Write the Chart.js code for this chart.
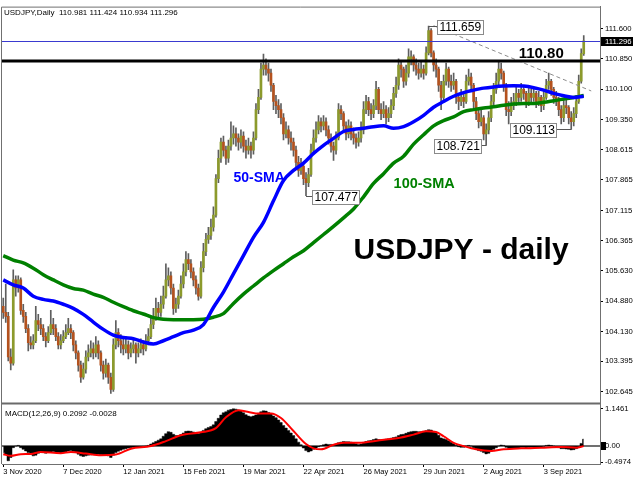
<!DOCTYPE html>
<html>
<head>
<meta charset="utf-8">
<script src="https://cdn.jsdelivr.net/npm/chart.js@4.4.1/dist/chart.umd.min.js"></script>
<style>
  html, body { margin: 0; padding: 0; background: #fff; }
  #wrap { width: 640px; height: 480px; }
</style>
</head>
<body>
<div id="wrap"><canvas id="chart" width="640" height="480"></canvas></div>
<script>
// daily candles, bar 0 = 3 Nov 2020
const opens = [
  104.75,104.60,104.50,103.50,103.35,105.40,105.20,105.40,104.65,104.50,
  104.20,103.85,103.80,103.90,104.40,104.30,104.20,104.00,103.90,104.10,
  104.30,104.20,104.00,103.80,103.90,104.00,104.10,104.20,104.10,103.80,
  103.60,103.30,103.00,103.20,103.50,103.60,103.70,103.60,103.80,103.60,
  103.30,103.10,103.30,103.00,102.70,103.80,104.10,103.90,103.80,103.70,
  103.80,103.60,103.70,103.80,103.60,103.70,103.80,103.70,103.90,104.00,
  104.30,104.50,104.70,104.60,104.80,105.00,105.40,105.50,105.20,104.70,
  104.80,105.00,105.30,105.60,105.90,105.80,105.60,105.40,105.20,105.00,
  105.70,106.10,106.40,106.50,106.70,107.00,107.90,108.40,108.80,108.60,
  108.40,108.70,108.90,109.00,108.90,108.80,108.95,108.70,108.60,108.70,
  108.60,108.90,109.60,109.90,110.60,110.70,110.60,110.50,110.20,109.80,
  109.70,109.60,109.40,109.00,109.10,108.90,108.80,108.60,108.30,108.10,
  108.20,107.90,107.80,108.00,108.60,108.90,109.10,109.30,109.20,109.30,
  109.10,108.90,108.70,108.60,108.90,109.60,109.50,109.20,109.00,109.20,
  109.00,108.90,108.80,108.90,109.10,109.60,109.80,109.60,109.50,109.70,
  110.10,109.60,109.50,109.60,109.40,109.50,109.70,110.00,110.20,110.70,
  110.60,110.30,110.50,110.85,110.90,110.70,110.60,110.50,110.60,110.50,
  111.00,111.55,111.00,110.70,110.60,110.20,109.90,110.30,110.60,110.30,
  110.20,110.30,109.90,109.80,109.90,109.80,110.30,110.40,110.20,109.80,
  109.50,109.30,109.40,109.00,109.10,109.40,109.80,110.10,110.30,110.60,
  110.50,110.20,109.60,109.55,109.70,109.80,110.00,109.90,110.10,110.00,
  109.80,110.00,109.90,110.00,109.80,109.90,109.70,109.90,110.20,110.30,
  110.10,109.90,109.85,109.60,109.40,109.70,109.65,109.40,109.30,109.50,
  109.80,110.30,110.981
];
const highs = [
  104.95,105.30,104.60,103.70,105.65,105.50,105.50,105.45,104.80,104.60,
  104.30,104.00,104.05,104.75,104.55,104.45,104.30,104.10,104.25,104.65,
  104.45,104.30,104.10,104.05,104.15,104.30,104.45,104.30,104.15,103.90,
  103.65,103.40,103.35,103.65,103.80,103.90,103.85,104.00,103.90,103.65,
  103.40,103.45,103.35,103.10,103.95,104.40,104.20,104.05,104.00,104.00,
  103.90,103.85,103.95,103.85,103.85,103.95,103.90,104.05,104.20,104.45,
  104.70,104.95,104.85,105.00,105.25,105.80,105.70,105.60,105.30,104.95,
  105.15,105.50,105.80,106.10,106.05,105.90,105.70,105.50,105.30,105.85,
  106.30,106.55,106.70,106.90,107.20,108.00,108.60,108.90,108.95,108.70,
  108.85,109.30,109.20,109.15,109.00,109.10,109.05,108.85,108.90,108.80,
  109.05,109.75,110.10,110.75,110.97,110.85,110.75,110.60,110.25,109.95,
  109.85,109.75,109.50,109.30,109.20,109.05,108.90,108.70,108.45,108.40,
  108.30,108.05,108.15,108.75,109.10,109.30,109.45,109.40,109.45,109.40,
  109.20,109.00,108.80,109.05,109.75,109.70,109.55,109.30,109.35,109.30,
  109.15,109.00,109.05,109.30,109.80,109.95,109.90,109.75,109.85,110.30,
  110.15,109.75,109.80,109.70,109.65,109.85,110.15,110.40,110.85,110.80,
  110.65,110.70,111.10,111.05,110.95,110.85,110.75,110.80,110.70,111.15,
  111.66,111.60,111.05,110.85,110.65,110.30,110.45,110.75,110.65,110.45,
  110.50,110.35,110.00,110.10,110.00,110.45,110.60,110.50,110.25,109.90,
  109.60,109.60,109.45,109.25,109.55,109.95,110.25,110.50,110.80,110.75,
  110.55,110.25,109.80,109.90,110.00,110.15,110.10,110.25,110.20,110.05,
  110.15,110.10,110.15,110.05,110.05,109.95,110.05,110.35,110.50,110.35,
  110.15,110.05,109.90,109.70,109.85,109.85,109.70,109.55,109.65,109.95,
  110.45,111.10,111.424
];
const lows = [
  104.45,104.35,103.40,103.18,103.30,105.00,105.10,104.55,104.35,104.10,
  103.65,103.70,103.70,103.85,104.15,104.05,103.90,103.75,103.85,104.05,
  104.05,103.90,103.70,103.70,103.85,103.95,104.05,103.95,103.65,103.45,
  103.15,102.87,102.95,103.10,103.40,103.50,103.45,103.50,103.45,103.15,
  102.95,103.00,102.85,102.60,102.65,103.70,103.75,103.60,103.55,103.60,
  103.45,103.50,103.60,103.35,103.50,103.60,103.55,103.65,103.80,103.95,
  104.20,104.40,104.45,104.50,104.70,104.95,105.25,105.05,104.55,104.60,
  104.70,104.95,105.20,105.50,105.65,105.45,105.25,105.05,104.90,104.95,
  105.60,106.00,106.30,106.40,106.60,106.95,107.80,108.30,108.45,108.25,
  108.30,108.60,108.75,108.70,108.60,108.65,108.55,108.40,108.50,108.40,
  108.50,108.85,109.50,109.85,110.45,110.45,110.30,110.05,109.60,109.50,
  109.40,109.25,108.85,108.90,108.75,108.60,108.45,108.15,107.95,108.00,
  107.75,107.48,107.70,107.95,108.50,108.80,109.00,109.05,109.10,108.95,
  108.75,108.55,108.35,108.50,108.85,109.35,109.05,108.85,108.90,108.85,
  108.75,108.65,108.70,108.80,109.00,109.50,109.45,109.35,109.40,109.60,
  109.50,109.35,109.40,109.25,109.30,109.40,109.60,109.90,110.10,110.40,
  110.15,110.20,110.40,110.70,110.55,110.45,110.35,110.40,110.35,110.45,
  110.95,110.90,110.55,110.40,110.05,109.60,109.80,110.20,110.15,110.05,
  110.10,109.75,109.60,109.70,109.65,109.75,110.20,110.05,109.65,109.35,
  109.15,109.20,108.85,108.72,109.00,109.30,109.70,110.00,110.20,110.35,
  110.05,109.45,109.25,109.45,109.60,109.70,109.75,109.80,109.85,109.65,
  109.70,109.75,109.80,109.65,109.70,109.55,109.60,109.85,110.10,109.95,
  109.75,109.70,109.45,109.25,109.30,109.50,109.25,109.11,109.20,109.40,
  109.75,110.25,110.934
];
const closes = [
  104.60,104.50,103.50,103.35,105.40,105.20,105.40,104.65,104.50,104.20,
  103.85,103.80,103.90,104.40,104.30,104.20,104.00,103.90,104.10,104.30,
  104.20,104.00,103.80,103.90,104.00,104.10,104.20,104.10,103.80,103.60,
  103.30,103.00,103.20,103.50,103.60,103.70,103.60,103.80,103.60,103.30,
  103.10,103.30,103.00,102.70,103.80,104.10,103.90,103.80,103.70,103.80,
  103.60,103.70,103.80,103.60,103.70,103.80,103.70,103.90,104.00,104.30,
  104.50,104.70,104.60,104.80,105.00,105.40,105.50,105.20,104.70,104.80,
  105.00,105.30,105.60,105.90,105.80,105.60,105.40,105.20,105.00,105.70,
  106.10,106.40,106.50,106.70,107.00,107.90,108.40,108.80,108.60,108.40,
  108.70,108.90,109.00,108.90,108.80,108.95,108.70,108.60,108.70,108.60,
  108.90,109.60,109.90,110.60,110.70,110.60,110.50,110.20,109.80,109.70,
  109.60,109.40,109.00,109.10,108.90,108.80,108.60,108.30,108.10,108.20,
  107.90,107.80,108.00,108.60,108.90,109.10,109.30,109.20,109.30,109.10,
  108.90,108.70,108.60,108.90,109.60,109.50,109.20,109.00,109.20,109.00,
  108.90,108.80,108.90,109.10,109.60,109.80,109.60,109.50,109.70,110.10,
  109.60,109.50,109.60,109.40,109.50,109.70,110.00,110.20,110.70,110.60,
  110.30,110.50,110.90,110.90,110.70,110.60,110.50,110.60,110.50,111.00,
  111.55,111.00,110.70,110.60,110.20,109.90,110.30,110.60,110.30,110.20,
  110.30,109.90,109.80,109.90,109.80,110.30,110.40,110.20,109.80,109.50,
  109.30,109.40,109.00,109.10,109.40,109.80,110.10,110.30,110.60,110.50,
  110.20,109.60,109.55,109.70,109.80,110.00,109.90,110.10,110.00,109.80,
  110.00,109.90,110.00,109.80,109.90,109.70,109.90,110.20,110.30,110.10,
  109.90,109.85,109.60,109.40,109.70,109.65,109.40,109.30,109.50,109.80,
  110.30,110.98,111.296
];

// moving averages read every 4 bars
const smaIdx = [
  0,4,8,12,16,20,24,28,32,36,40,44,48,52,56,60,64,68,72,76,80,84,88,92,96,100,
  104,108,112,116,120,124,128,132,136,140,144,148,152,156,160,164,168,172,176,
  180,184,188,192,196,200,204,208,212,216,220,224,228,232
];
const sma50 = [
  105.40,105.28,105.20,105.00,104.92,104.88,104.80,104.70,104.55,104.36,104.18,
  104.04,103.98,103.95,103.87,103.82,103.90,104.00,104.10,104.16,104.30,104.72,
  105.10,105.55,106.00,106.45,106.82,107.35,107.85,108.10,108.28,108.52,108.72,
  108.89,109.06,109.11,109.14,109.18,109.20,109.14,109.18,109.30,109.46,109.66,
  109.80,109.93,110.02,110.08,110.13,110.16,110.18,110.19,110.18,110.14,110.08,
  110.00,109.94,109.90,109.93
];
const sma100 = [
  106.00,105.89,105.82,105.69,105.53,105.40,105.28,105.19,105.15,105.05,104.97,
  104.85,104.74,104.64,104.56,104.47,104.43,104.42,104.42,104.42,104.43,104.48,
  104.57,104.82,105.05,105.25,105.45,105.63,105.80,105.97,106.12,106.32,106.52,
  106.72,106.93,107.15,107.45,107.78,108.02,108.28,108.45,108.75,108.98,109.20,
  109.33,109.42,109.55,109.60,109.64,109.67,109.71,109.74,109.75,109.75,109.78,
  109.82,109.86,109.90,109.95
];

// MACD(12,26,9) main histogram, one per bar
const macd = [
  -0.20,-0.25,-0.45,-0.35,-0.05,0.00,0.02,-0.05,-0.10,-0.15,
  -0.20,-0.25,-0.30,-0.28,-0.22,-0.20,-0.20,-0.22,-0.20,-0.18,
  -0.17,-0.18,-0.20,-0.22,-0.20,-0.18,-0.15,-0.14,-0.16,-0.20,
  -0.25,-0.30,-0.32,-0.30,-0.28,-0.27,-0.26,-0.24,-0.25,-0.27,
  -0.28,-0.28,-0.30,-0.35,-0.28,-0.20,-0.16,-0.13,-0.10,-0.08,
  -0.06,-0.05,-0.04,-0.04,-0.03,-0.02,-0.01,0.00,0.02,0.06,
  0.10,0.14,0.18,0.22,0.30,0.38,0.44,0.42,0.36,0.32,
  0.32,0.35,0.40,0.45,0.46,0.45,0.43,0.40,0.38,0.42,
  0.48,0.53,0.57,0.60,0.65,0.75,0.85,0.95,1.02,1.05,
  1.10,1.12,1.14,1.13,1.10,1.08,1.02,0.96,0.92,0.90,
  0.92,0.95,1.00,1.05,1.08,1.07,1.03,0.98,0.92,0.87,
  0.80,0.72,0.63,0.55,0.48,0.40,0.32,0.22,0.12,0.04,
  -0.06,-0.14,-0.18,-0.15,-0.10,-0.06,-0.02,0.01,0.04,0.06,
  0.05,0.05,0.04,0.06,0.10,0.12,0.14,0.13,0.13,0.12,
  0.10,0.07,0.05,0.06,0.10,0.14,0.16,0.17,0.20,0.22,
  0.20,0.19,0.20,0.21,0.22,0.24,0.26,0.28,0.32,0.35,
  0.36,0.39,0.42,0.44,0.45,0.45,0.44,0.44,0.45,0.47,
  0.50,0.49,0.45,0.40,0.33,0.25,0.22,0.20,0.16,0.12,
  0.08,0.02,-0.02,-0.04,-0.04,0.00,0.02,0.00,-0.05,-0.10,
  -0.14,-0.16,-0.20,-0.24,-0.22,-0.16,-0.10,-0.05,0.00,0.03,
  0.02,-0.04,-0.07,-0.08,-0.07,-0.06,-0.06,-0.04,-0.04,-0.05,
  -0.04,-0.03,-0.03,-0.04,-0.03,-0.03,-0.01,0.02,0.03,0.02,
  0.00,-0.02,-0.05,-0.08,-0.08,-0.09,-0.10,-0.12,-0.11,-0.08,
  -0.03,0.08,0.21
];
const signalIdx = [
  0,3,7,11,15,23,27,33,39,45,51,59,65,71,79,85,89,94,97,101,107,111,116,121,
  124,127,132,136,143,148,153,159,164,169,173,176,180,184,189,195,200,207,215,
  223,229,232
];
const signal = [
  -0.25,-0.30,-0.25,-0.24,-0.18,-0.22,-0.18,-0.23,-0.28,-0.26,-0.08,0.00,0.15,
  0.33,0.42,0.55,0.88,1.10,1.06,1.00,1.00,0.86,0.46,0.06,-0.07,-0.10,0.04,0.10,
  0.10,0.15,0.20,0.26,0.35,0.45,0.43,0.30,0.10,0.00,-0.10,-0.15,-0.10,-0.07,
  -0.05,-0.03,-0.05,-0.003
];

// axis ticks
const priceTicks = [111.600,110.850,110.100,109.350,108.615,107.865,107.115,106.365,105.630,104.880,104.130,103.395,102.645];
const macdTicks = [1.1461, 0, -0.4974];
const macdTickLabels = ['1.1461', '0.00', '-0.4974'];
const dateTickIdx = [0,24,48,72,96,120,144,168,192,216];
const dateTickLabels = ['3 Nov 2020','7 Dec 2020','12 Jan 2021','15 Feb 2021','19 Mar 2021','22 Apr 2021','26 May 2021','29 Jun 2021','2 Aug 2021','3 Sep 2021'];

// levels and marked extremes
const lastPrice = 111.296;
const resistance = 110.80;
const trendIdx = [172, 235];
const trendPrice = [111.67, 110.06];
const markIdx = [170, 121, 193, 227];
const markPrice = [111.659, 107.477, 108.721, 109.113];
const noteText = ['110.80', '50-SMA', '100-SMA', 'USDJPY - daily'];
const noteIdx = [206, 92, 156, 140];
const notePrice = [110.80, 107.91, 107.77, 106.13];

const FONT = '"Liberation Sans", Arial, sans-serif';
const BULL = '#8c9a2c';
const BEAR = '#b4521e';
const markGap = [8, 6, 5, 15];
const markSide = [1, 1, -1, -1];
const noteStyle = [
  { font: 'bold 15px ' + FONT, color: '#000', dy: -7 },
  { font: 'bold 14px ' + FONT, color: '#0000ff', dy: 0 },
  { font: 'bold 14.5px ' + FONT, color: '#008000', dy: 0 },
  { font: 'bold 30px ' + FONT, color: '#000', dy: 0 }
];

const bodies = opens.map((o, i) => ({ x: i, y: [o, closes[i]] }));
const wicks = lows.map((l, i) => ({ x: i, y: [l, highs[i]] }));
const bodyColors = opens.map((o, i) => closes[i] >= o ? BULL : BEAR);

const overlay = {
    id: 'overlay',
    beforeDatasetsDraw(chart) {
        const { ctx, chartArea: a, scales: { y2 } } = chart;
        const z = Math.round(y2.getPixelForValue(0));
        ctx.save();
        ctx.strokeStyle = '#404040';
        ctx.lineWidth = 1.5;
        ctx.beginPath();
        ctx.moveTo(a.left, z);
        ctx.lineTo(a.right, z);
        ctx.stroke();
        ctx.restore();
    },
    afterDatasetsDraw(chart) {
        const { ctx, chartArea: a, scales: { y } } = chart;
        ctx.save();
        const yl = Math.round(y.getPixelForValue(lastPrice)) + 0.5;
        ctx.strokeStyle = '#3a3ad0';
        ctx.lineWidth = 1;
        ctx.beginPath(); ctx.moveTo(a.left, yl); ctx.lineTo(a.right, yl); ctx.stroke();

        const yr = y.getPixelForValue(resistance);
        ctx.strokeStyle = '#000';
        ctx.lineWidth = 3;
        ctx.beginPath(); ctx.moveTo(a.left, yr); ctx.lineTo(a.right, yr); ctx.stroke();

        // pane separator and frame
        ctx.strokeStyle = '#6a6a6a';
        ctx.lineWidth = 2;
        ctx.beginPath(); ctx.moveTo(a.left, y.bottom); ctx.lineTo(a.right, y.bottom); ctx.stroke();
        ctx.lineWidth = 1;
        ctx.strokeStyle = '#707070';
        ctx.beginPath();
        ctx.moveTo(a.left - 0.5, a.bottom);
        ctx.lineTo(a.left - 0.5, a.top + 0.5);
        ctx.lineTo(a.right, a.top + 0.5);
        ctx.stroke();
        ctx.restore();
    },
    afterDraw(chart) {
        const { ctx, chartArea: a, scales: { x, y, y2 } } = chart;
        ctx.save();
        ctx.textAlign = 'left';
        ctx.textBaseline = 'middle';
        ctx.fillStyle = '#000';
        ctx.font = '8px ' + FONT;
        ctx.fillText('USDJPY,Daily  110.981 111.424 110.934 111.296', a.left + 2, a.top + 6);
        ctx.fillText('MACD(12,26,9) 0.2092 -0.0028', a.left + 3, y2.top + 10);

        noteText.forEach((t, k) => {
            ctx.font = noteStyle[k].font;
            ctx.fillStyle = noteStyle[k].color;
            ctx.fillText(t, x.getPixelForValue(noteIdx[k]), y.getPixelForValue(notePrice[k]) + noteStyle[k].dy);
        });

        markIdx.forEach((idx, k) => {
            const px = x.getPixelForValue(idx);
            const py = Math.round(y.getPixelForValue(markPrice[k])) + 0.5;
            const txt = markPrice[k].toFixed(3);
            ctx.font = '12px ' + FONT;
            const w = Math.round(ctx.measureText(txt).width + 4), h = 14;
            const bx = Math.round(markSide[k] > 0 ? px + markGap[k] : px - markGap[k] - w);
            const by = Math.round(py - h / 2);
            ctx.strokeStyle = '#555';
            ctx.lineWidth = 1;
            ctx.beginPath();
            ctx.moveTo(px, py);
            ctx.lineTo(markSide[k] > 0 ? bx : bx + w, py);
            ctx.stroke();
            ctx.fillStyle = '#fff';
            ctx.fillRect(bx, by, w, h);
            ctx.strokeStyle = '#8a8a8a';
            ctx.strokeRect(bx + 0.5, by + 0.5, w, h);
            ctx.fillStyle = '#000';
            ctx.fillText(txt, bx + 2.5, by + h / 2 + 1);
        });

        // current price tag on the axis
        const yl = Math.round(y.getPixelForValue(lastPrice));
        ctx.fillStyle = '#000';
        ctx.fillRect(a.right + 1, yl - 4, 32, 9);
        ctx.fillStyle = '#fff';
        ctx.font = '7.7px ' + FONT;
        ctx.fillText(lastPrice.toFixed(3), a.right + 5, yl + 0.5);
        const z = Math.round(y2.getPixelForValue(0));
        ctx.fillStyle = '#000';
        ctx.fillRect(a.right + 1, z - 4, 5, 8);
        ctx.restore();
    }
};

new Chart(document.getElementById('chart'), {
    type: 'bar',
    data: {
        datasets: [
            {
                type: 'line', data: trendIdx.map((v, i) => ({ x: v, y: trendPrice[i] })),
                borderColor: '#8c8c8c', borderWidth: 1, borderDash: [4, 3],
                pointRadius: 0, order: 0, yAxisID: 'y'
            },
            {
                type: 'line', data: smaIdx.map((v, i) => ({ x: v, y: sma50[i] })),
                borderColor: '#0000ff', borderWidth: 3.5, pointRadius: 0,
                cubicInterpolationMode: 'monotone', order: 1, yAxisID: 'y'
            },
            {
                type: 'line', data: smaIdx.map((v, i) => ({ x: v, y: sma100[i] })),
                borderColor: '#008000', borderWidth: 3.5, pointRadius: 0,
                cubicInterpolationMode: 'monotone', order: 1, yAxisID: 'y'
            },
            {
                data: bodies, backgroundColor: bodyColors, barThickness: 2,
                minBarLength: 1, grouped: false, order: 2, yAxisID: 'y'
            },
            {
                data: wicks, backgroundColor: '#5e5e5e', barThickness: 1,
                grouped: false, order: 3, yAxisID: 'y'
            },
            {
                type: 'line', data: signalIdx.map((v, i) => ({ x: v, y: signal[i] })),
                borderColor: '#ff0000', borderWidth: 2, pointRadius: 0,
                cubicInterpolationMode: 'monotone', order: 1, yAxisID: 'y2'
            },
            {
                // histogram drawn as a solid stepped area, one step per bar
                type: 'line', data: macd.map((v, i) => ({ x: i, y: v })),
                stepped: 'middle', fill: 'origin', backgroundColor: '#000',
                borderColor: '#000', borderWidth: 0.5, pointRadius: 0, order: 2, yAxisID: 'y2'
            }
        ]
    },
    options: {
        responsive: false,
        animation: false,
        devicePixelRatio: 1,
        events: [],
        layout: { padding: { left: 2, top: 2, right: 0, bottom: 0 } },
        plugins: { legend: { display: false }, tooltip: { enabled: false } },
        scales: {
            x: {
                type: 'linear', min: -0.5, max: 238.5, offset: false,
                afterBuildTicks: s => { s.ticks = dateTickIdx.map(v => ({ value: v })); },
                afterFit: s => { s.height = 16; },
                ticks: {
                    align: 'start', maxRotation: 0, autoSkip: false, padding: 0, color: '#000',
                    font: { family: FONT, size: 7.5 },
                    callback: v => dateTickLabels[dateTickIdx.indexOf(v)]
                },
                grid: { offset: false, drawOnChartArea: false, tickLength: 3, color: '#000' },
                border: { color: '#707070' }
            },
            y: {
                type: 'linear', position: 'right', stack: 'panes', stackWeight: 401,
                min: 102.35, max: 112.14,
                afterBuildTicks: s => { s.ticks = priceTicks.map(v => ({ value: v })); },
                afterFit: s => { s.width = 40; },
                ticks: { padding: 2, color: '#000', font: { family: FONT, size: 7.7 }, callback: v => v.toFixed(3) },
                grid: { drawOnChartArea: false, tickLength: 3, color: '#000' },
                border: { color: '#707070' }
            },
            y2: {
                type: 'linear', position: 'right', stack: 'panes', stackWeight: 61,
                min: -0.55, max: 1.30,
                afterBuildTicks: s => { s.ticks = macdTicks.map(v => ({ value: v })); },
                afterFit: s => { s.width = 40; },
                ticks: { padding: 2, color: '#000', font: { family: FONT, size: 7.7 }, callback: v => macdTickLabels[macdTicks.indexOf(v)] },
                grid: { drawOnChartArea: false, tickLength: 3, color: '#000' },
                border: { color: '#707070' }
            }
        }
    },
    plugins: [overlay]
});
</script>
</body>
</html>
